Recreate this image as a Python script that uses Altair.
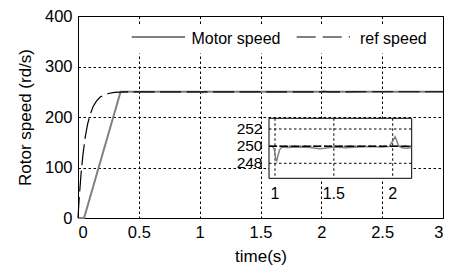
import altair as alt
import pandas as pd

FONT = "Liberation Sans"

# ---- data ----
x_ticks = [0, 0.5, 1, 1.5, 2, 2.5, 3]
y_ticks = [0, 100, 200, 300, 400]

ref_t = [0, 0.005, 0.01, 0.025, 0.04, 0.06, 0.08, 0.1, 0.125, 0.15, 0.18, 0.21, 0.25, 0.3, 0.35, 0.4, 3.0]
ref_v = [0, 20, 40, 87, 124, 161, 187, 205, 221, 231, 239, 243, 246.5, 248.6, 249.4, 249.8, 250]

motor_t = [0, 0.05, 0.35, 1.0, 1.015, 1.04, 2.0, 2.02, 2.05, 3.0]
motor_v = [0, 0, 250, 250, 248.4, 250, 250, 251.1, 250, 250]

inset_x_ticks = [1, 1.5, 2]
inset_y_ticks = [248, 250, 252]
inset_t = [0.95, 0.98, 0.995, 1.005, 1.015, 1.025, 1.04, 1.06, 1.1, 1.2, 1.3, 1.38,
           1.42, 1.5, 1.6, 1.7, 1.8, 1.9, 1.97, 2.0, 2.02, 2.035, 2.05, 2.08, 2.12, 2.16]
inset_v = [250, 250, 249.6, 248.6, 248.3, 248.9, 249.6, 249.9, 249.85, 249.9, 249.85, 249.7,
           249.75, 249.9, 249.8, 249.9, 249.95, 249.9, 249.95, 250.6, 251.1, 250.6, 250.0, 249.8, 249.75, 249.85]
inset_ref_t = [0.95, 2.16]
inset_ref_v = [250, 250]

legend_labels = ["Motor speed", "ref speed"]

# ---- tables ----
ref_df = pd.DataFrame({"t": ref_t, "v": ref_v})
motor_df = pd.DataFrame({"t": motor_t, "v": motor_v})
inset_df = pd.DataFrame({"t": inset_t, "v": inset_v})
inset_ref_df = pd.DataFrame({"t": inset_ref_t, "v": inset_ref_v})
ixt_df = pd.DataFrame({"t": inset_x_ticks, "label": [f"{v:g}" for v in inset_x_ticks]})
iyt_df = pd.DataFrame({"v": inset_y_ticks, "label": [str(v) for v in inset_y_ticks]})
one = pd.DataFrame({"a": [0]})

# plot area offset: top at page y=16 instead of 14 (2px lower), so shift inset/legend values by -2
DY = -2

# ---- main plot ----
X = alt.X("t:Q", scale=alt.Scale(domain=[0, 3], nice=False, zero=False),
          axis=alt.Axis(values=x_ticks, format="~g", title="time(s)", grid=True))
Y = alt.Y("v:Q", scale=alt.Scale(domain=[0, 400], nice=False, zero=False),
          axis=alt.Axis(values=y_ticks, format="d", title="Rotor speed (rd/s)", grid=True))

ref_line = alt.Chart(ref_df).mark_line(color="black", strokeWidth=1.2, strokeDash=[21, 5.5]).encode(x=X, y=Y)
motor_line = alt.Chart(motor_df).mark_line(color="#808080", strokeWidth=2).encode(x=X, y=Y)
main = alt.layer(motor_line, ref_line)

# ---- inset ----
XI = alt.X("t:Q", scale=alt.Scale(domain=[1, 2], range=[197, 314.7], nice=False, zero=False), axis=None)
YI = alt.Y("v:Q", scale=alt.Scale(domain=[248, 252], range=[149.3 + DY, 115 + DY], nice=False, zero=False), axis=None)

inset_bg = alt.Chart(one).mark_rect(fill="white", stroke="black", strokeWidth=1).encode(
    x=alt.value(191), x2=alt.value(333.7), y=alt.value(104.3 + DY), y2=alt.value(164.3 + DY))
inset_gx = alt.Chart(ixt_df).mark_rule(color="black", strokeWidth=1, strokeDash=[2.5, 2.5]).encode(
    x=XI, y=alt.value(104.3 + DY), y2=alt.value(164.3 + DY))
inset_gy = alt.Chart(iyt_df).mark_rule(color="black", strokeWidth=1, strokeDash=[2.5, 2.5]).encode(
    y=YI, x=alt.value(191), x2=alt.value(333.7))
inset_motor = alt.Chart(inset_df).mark_line(color="#808080", strokeWidth=1.5).encode(x=XI, y=YI)
inset_ref = alt.Chart(inset_ref_df).mark_line(color="black", strokeWidth=1.5, strokeDash=[8, 3]).encode(x=XI, y=YI)
inset_xl = alt.Chart(ixt_df).mark_text(font=FONT, fontSize=16, align="center", baseline="alphabetic",
                                        color="black").encode(x=XI, y=alt.value(184.5 + DY), text="label:N")
inset_yl = alt.Chart(iyt_df).mark_text(font=FONT, fontSize=15.5, align="right", baseline="middle",
                                        color="black").encode(y=YI, x=alt.value(184.5), text="label:N")
inset = alt.layer(inset_bg, inset_gx, inset_gy, inset_motor, inset_ref, inset_xl, inset_yl)

# ---- legend ----
leg_bg = alt.Chart(one).mark_rect(fill="white").encode(
    x=alt.value(48), x2=alt.value(362), y=alt.value(11 + DY), y2=alt.value(39.5 + DY))
leg_motor = alt.Chart(one).mark_rule(color="#808080", strokeWidth=2).encode(
    x=alt.value(53.7), x2=alt.value(107), y=alt.value(23 + DY))
leg_ref = alt.Chart(one).mark_rule(color="black", strokeWidth=1.2, strokeDash=[19, 7]).encode(
    x=alt.value(218.7), x2=alt.value(272), y=alt.value(23 + DY))
leg_t1 = alt.Chart(one).mark_text(font=FONT, fontSize=16, align="left", baseline="middle", color="black",
                                  text=legend_labels[0]).encode(x=alt.value(113.5), y=alt.value(24.5 + DY))
leg_t2 = alt.Chart(one).mark_text(font=FONT, fontSize=16, align="left", baseline="middle", color="black",
                                  text=legend_labels[1]).encode(x=alt.value(282), y=alt.value(24.5 + DY))
legend = alt.layer(leg_bg, leg_motor, leg_ref, leg_t1, leg_t2)

chart = alt.layer(main, inset, legend).resolve_scale(x="independent", y="independent").properties(
    width=365, height=202,
    autosize=alt.AutoSizeParams(type="none"),
    padding={"left": 70, "top": 8, "right": 12, "bottom": 50},
).configure_view(stroke="black", strokeWidth=1).configure_axis(
    labelFont=FONT, labelFontSize=16.5, labelColor="black",
    titleFont=FONT, titleFontSize=17, titleFontWeight="normal", titleColor="black",
    domainColor="black", domainWidth=1,
    gridColor="black", gridDash=[2.5, 2.5], gridOpacity=1, gridWidth=1,
    tickSize=0, labelPadding=6,
).configure_axisX(titlePadding=8).configure_axisY(titlePadding=10)

chart.save("out.html", embed_options={"renderer": "svg", "actions": False})
